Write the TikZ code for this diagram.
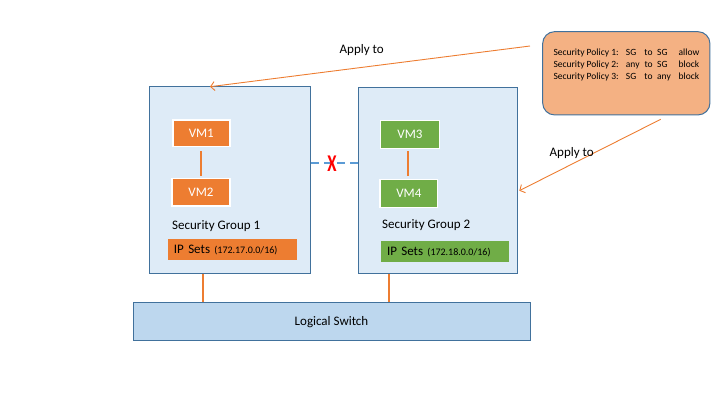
\documentclass[tikz,border=0pt]{standalone}
\usepackage{fontspec}
\setmainfont{Carlito}
\usetikzlibrary{arrows.meta}
\definecolor{sgfill}{HTML}{DEEBF7}
\definecolor{sgdraw}{HTML}{41719C}
\definecolor{vmorange}{HTML}{ED7D31}
\definecolor{vmgreen}{HTML}{70AD47}
\definecolor{lsfill}{HTML}{BDD7EE}
\definecolor{polfill}{HTML}{F4B183}
\definecolor{dashblue}{HTML}{5B9BD5}
\newcommand{\polrow}[5]{\makebox[72.4pt][l]{#1}\makebox[18.6pt][l]{#2}\makebox[12.7pt][l]{#3}\makebox[21.5pt][l]{#4}#5}
\tikzset{
  sgbox/.style={draw=sgdraw, fill=sgfill, line width=1pt, inner sep=0pt},
  vmbox/.style={draw=white, line width=1.5pt, inner sep=0pt, text=white,
    font=\fontsize{13}{15}\selectfont},
  ipbox/.style={inner xsep=6pt, inner ysep=0pt, minimum height=21pt, align=left,
    font=\fontsize{13}{15}\selectfont},
  lbl/.style={inner sep=0pt, font=\fontsize{13}{15}\selectfont},
  vmlink/.style={draw=vmorange, line width=2pt},
  applyarrow/.style={draw=vmorange, line width=0.9pt, -{Straight Barb[length=4pt,width=9pt]}},
}
\begin{document}
\begin{tikzpicture}[x=1pt,y=-1pt]
\useasboundingbox (0,0) rectangle (720,405);
% security groups
\node[sgbox, minimum width=161pt, minimum height=187pt] (sg1) at (230.1,179.5) {};
\node[sgbox, minimum width=159pt, minimum height=186pt] (sg2) at (437.5,180) {};
% VMs
\node[vmbox, fill=vmorange, minimum width=57pt, minimum height=26.7pt] (vm1) at (201.3,133.3) {VM1};
\node[vmbox, fill=vmorange, minimum width=58pt, minimum height=27.3pt] (vm2) at (201,192.3) {VM2};
\node[vmbox, fill=vmgreen, minimum width=58.6pt, minimum height=28pt] (vm3) at (410,134.7) {VM3};
\node[vmbox, fill=vmgreen, minimum width=57.7pt, minimum height=28pt] (vm4) at (408.8,193.3) {VM4};
\draw[vmlink, shorten <=4pt, shorten >=2pt] (201,0 |- vm1.south) -- (201,0 |- vm2.north);
\draw[vmlink, shorten <=2pt, shorten >=3pt] (408.3,0 |- vm3.south) -- (408.3,0 |- vm4.north);
% labels
\node[lbl, anchor=west] (sg1lbl) at (172,225.7) {Security Group 1};
\node[lbl, anchor=west] (sg2lbl) at (382,225) {Security Group 2};
% IP sets
\node[ipbox, fill=vmorange, text width=116.7pt] (ip1) at (232.3,249.5) {IP Sets {\fontsize{10}{12}\selectfont(172.17.0.0/16)}};
\node[ipbox, fill=vmgreen, text width=116pt] (ip2) at (445,251.8) {IP Sets {\fontsize{10}{12}\selectfont(172.18.0.0/16)}};
% blocked link
\draw[dashblue, line width=2pt, dash pattern=on 8pt off 5pt] (sg1.east |- 0,163.3) -- (sg2.west |- 0,163.3);
\node[text=red, inner sep=0pt, font=\bfseries\fontsize{24}{26}\selectfont, xscale=0.7] (xmark) at (332,164) {X};
% logical switch
\node[sgbox, fill=lsfill, minimum width=397pt, minimum height=38.3pt,
  font=\fontsize{13}{15}\selectfont] (ls) at (331.5,321.8) {Logical Switch};
\draw[vmlink] (203.3,0 |- sg1.south) -- (203.3,0 |- ls.north);
\draw[vmlink] (389,0 |- sg2.south) -- (389,0 |- ls.north);
% policy box
\node[draw=sgdraw, fill=polfill, line width=1pt, rounded corners=12pt,
  minimum width=167.3pt, minimum height=83.3pt, inner sep=0pt] (pol) at (626.3,73.3) {};
\node[anchor=west, inner sep=0pt, align=left, font=\fontsize{9.5}{11.7}\selectfont] (poltext) at (553.3,65) {%
\polrow{Security Policy 1:}{SG}{to}{SG}{allow}\\
\polrow{Security Policy 2:}{any}{to}{SG}{block}\\
\polrow{Security Policy 3:}{SG}{to}{any}{block}};
% apply arrows
\coordinate (a1s) at (530,46);
\coordinate (a1e) at (210,86.7);
\coordinate (a2s) at (660.7,119.3);
\coordinate (a2e) at (519.3,190.7);
\draw[applyarrow] (a1s) -- (a1e);
\draw[applyarrow] (a2s) -- (a2e);
\node[lbl] (ap1) at (361.7,50) {Apply to};
\node[lbl] (ap2) at (571.7,153.3) {Apply to};
\end{tikzpicture}
\end{document}
